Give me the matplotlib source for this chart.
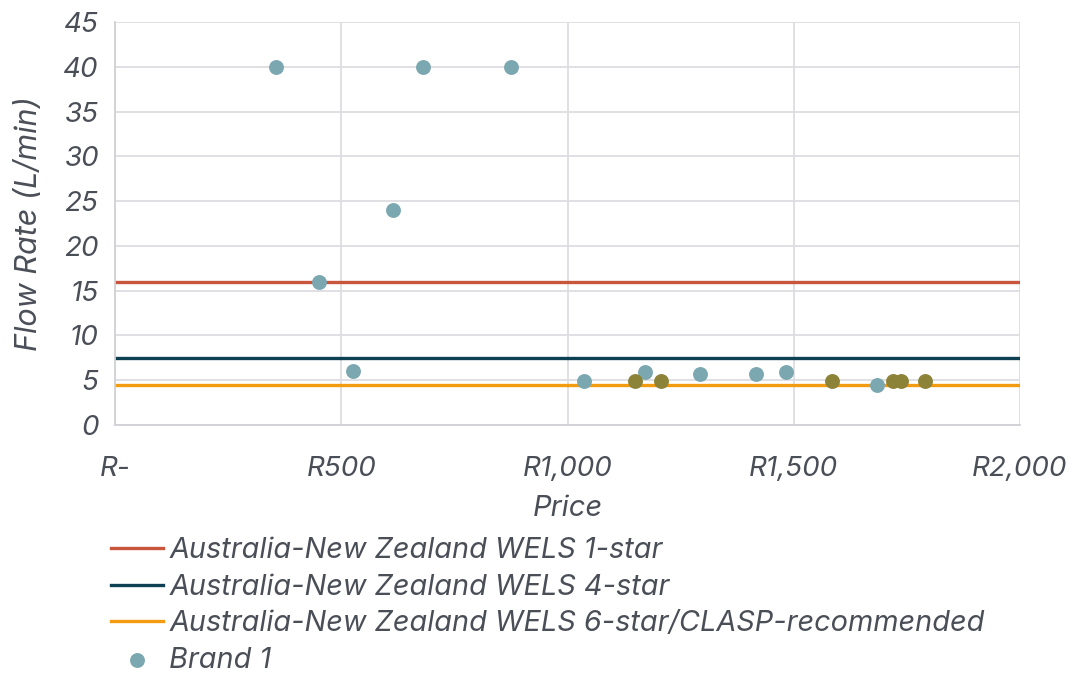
import matplotlib.pyplot as plt
from matplotlib.ticker import FuncFormatter

# data
brand1_price = [356, 451, 526, 614, 681, 875, 1036, 1171, 1293, 1417, 1483, 1685]
brand1_flow = [40, 16, 6, 24, 40, 40, 4.9, 5.9, 5.65, 5.65, 5.9, 4.45]
brand2_price = [1149, 1206, 1585, 1720, 1737, 1791]
brand2_flow = [4.9, 4.9, 4.9, 4.9, 4.9, 4.9]

wels_labels = ["Australia-New Zealand WELS 1-star",
               "Australia-New Zealand WELS 4-star",
               "Australia-New Zealand WELS 6-star/CLASP-recommended"]
wels_values = [16, 7.5, 4.5]
wels_colors = ["#C9553D", "#0E3F52", "#F39C12"]

text_col = "#4A4E57"
grid_col = "#DDDDE2"

plt.rcParams['font.family'] = ['Inter', 'DejaVu Sans']
plt.rcParams['font.style'] = 'italic'

fig = plt.figure(figsize=(10.73, 6.75), dpi=100)
ax = fig.add_axes([0.1072, 0.3704, 0.8434, 0.597])

for lab, val, col in zip(wels_labels, wels_values, wels_colors):
    ax.axhline(val, color=col, lw=2.4, label=lab, zorder=2)

ax.scatter(brand1_price, brand1_flow, s=115, color="#7BA7B0", label="Brand 1", zorder=3, linewidths=0)
ax.scatter(brand2_price, brand2_flow, s=115, color="#8C8338", zorder=3, linewidths=0)

ax.set_xlim(0, 2000)
ax.set_ylim(0, 45)
ax.set_xticks([0, 500, 1000, 1500, 2000])
ax.set_yticks(range(0, 46, 5))
ax.xaxis.set_major_formatter(FuncFormatter(lambda v, p: "R-" if v == 0 else "R{:,.0f}".format(v)))
ax.grid(True, color=grid_col, lw=1.3, zorder=0)
ax.set_axisbelow(True)
for s in ['top', 'right']:
    ax.spines[s].set_visible(False)
for s in ['left', 'bottom']:
    ax.spines[s].set_color("#D0D0D6")
    ax.spines[s].set_linewidth(1.3)
ax.tick_params(length=0, labelsize=20, colors=text_col)
ax.tick_params(axis='x', pad=22)
ax.tick_params(axis='y', pad=12)
ax.set_xlabel("Price", fontsize=21, color=text_col, labelpad=10)
ax.set_ylabel("Flow Rate (L/min)", fontsize=22, color=text_col, labelpad=14)

leg = fig.legend(loc='upper left', bbox_to_anchor=(0.093, 0.221), frameon=False,
                 fontsize=20.8, labelcolor=text_col, handlelength=1.8, handletextpad=0.2,
                 labelspacing=0.33, borderaxespad=0)

fig.savefig("out.png", dpi=100)
